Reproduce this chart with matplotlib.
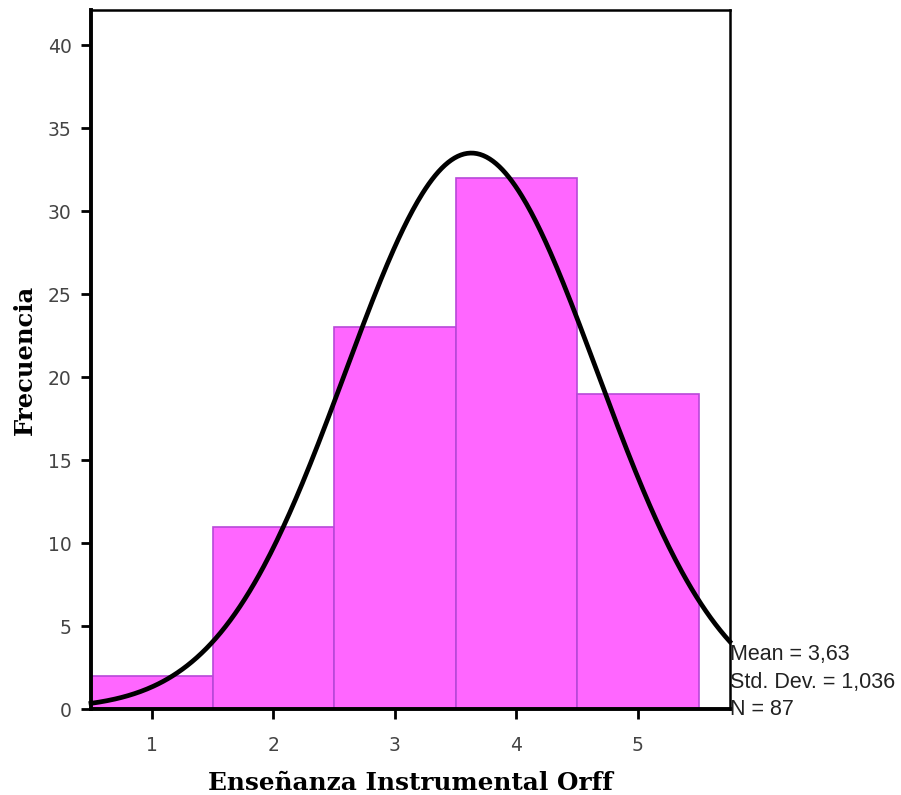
import numpy as np
import matplotlib.pyplot as plt

# data
categories = [1, 2, 3, 4, 5]
counts = [2, 11, 23, 32, 19]
mean_val = 3.63
sd_val = 1.036
n_total = 87
y_ticks = [0, 5, 10, 15, 20, 25, 30, 35, 40]
stat_lines = ['Mean = 3,63', 'Std. Dev. = 1,036', 'N = 87']

fig = plt.figure(figsize=(9.01, 7.95), dpi=100)
ax = fig.add_axes([0.101, 0.108, 0.709, 0.879])

ax.bar(categories, counts, width=1.0, color='#ff66ff', edgecolor='#b848d8', linewidth=1.2, zorder=2)

# normal curve scaled to counts (bin width 1)
xs = np.linspace(0.5, 5.757, 400)
ys = n_total / (sd_val * np.sqrt(2 * np.pi)) * np.exp(-0.5 * ((xs - mean_val) / sd_val) ** 2)
ax.plot(xs, ys, color='black', linewidth=3.4, zorder=3, clip_on=False)

ax.set_xlim(0.5, 5.757)
ax.set_ylim(0, 42.1)
ax.set_xticks(categories)
ax.set_yticks(y_ticks)
ax.tick_params(axis='both', direction='out', length=7, width=2, labelsize=13.5,
               labelcolor='#444444')
ax.tick_params(axis='x', pad=12)
ax.tick_params(axis='y', pad=7)

for side in ['left', 'bottom']:
    ax.spines[side].set_linewidth(2.8)
for side in ['top', 'right']:
    ax.spines[side].set_linewidth(1.8)

ax.set_xlabel('Enseñanza Instrumental Orff', fontsize=17.8, fontweight='bold',
              family='DejaVu Serif', labelpad=12)
ax.set_ylabel('Frecuencia', fontsize=17.5, fontweight='bold',
              family='DejaVu Serif', labelpad=8)

# stats box lines, last one level with the x axis
for i, line in enumerate(reversed(stat_lines)):
    ax.annotate(line, xy=(1.0, 0.0), xycoords='axes fraction',
                xytext=(0, i * 19.5), textcoords='offset points',
                ha='left', va='center', fontsize=15.5,
                family='Liberation Sans', color='#222222')

fig.savefig('out.png', dpi=100)
